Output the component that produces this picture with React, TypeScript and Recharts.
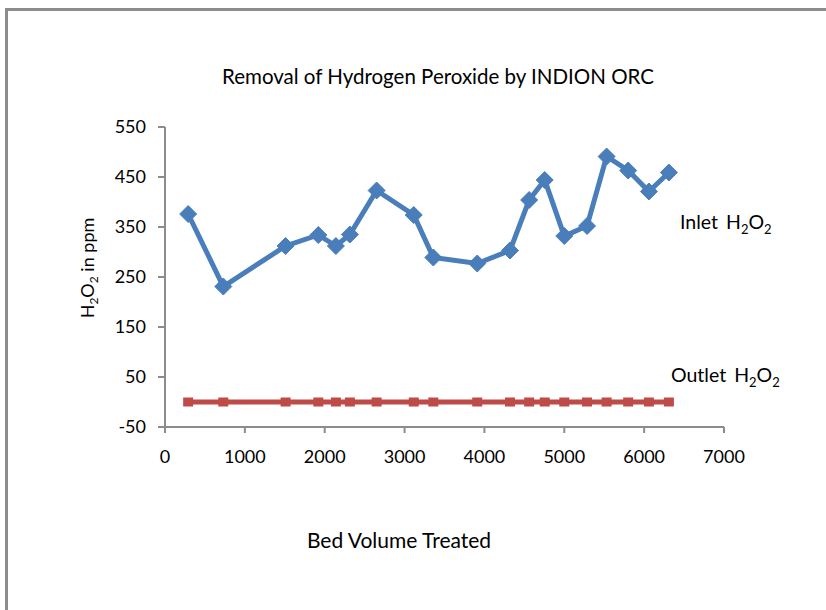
import React from "react";
import { LineChart, Line, XAxis, YAxis, Customized } from "recharts";

const bedVolumes = [290, 730, 1510, 1920, 2140, 2315, 2650, 3115, 3360, 3910, 4320, 4560, 4755, 5000, 5285, 5530, 5800, 6060, 6310];
const inletH2O2 = [376, 231, 312, 334, 312, 335, 423, 374, 289, 277, 303, 404, 444, 332, 352, 491, 463, 421, 459];
const outletH2O2 = [0, 0, 0, 0, 0, 0, 0, 0, 0, 0, 0, 0, 0, 0, 0, 0, 0, 0, 0];
const xTicks = [0, 1000, 2000, 3000, 4000, 5000, 6000, 7000];
const yTicks = [-50, 50, 150, 250, 350, 450, 550];

const data = bedVolumes.map((bv, i) => ({ bv, inlet: inletH2O2[i], outlet: outletH2O2[i] }));

const FONT = "Lato, 'Open Sans', sans-serif";
const BLUE = "#4A7EBB";
const RED = "#BE4B48";
const AXIS = "#8C8C8C";

const Diamond = (props: any) => {
  const { cx, cy, index } = props;
  if (cx == null || cy == null) return null;
  const r = 8.5;
  return <path key={`d${index}`} d={`M${cx},${cy - r}L${cx + r},${cy}L${cx},${cy + r}L${cx - r},${cy}Z`} fill={BLUE} stroke={BLUE} strokeWidth={1} />;
};

const Square = (props: any) => {
  const { cx, cy, index } = props;
  if (cx == null || cy == null) return null;
  return <rect key={`s${index}`} x={cx - 5} y={cy - 4.5} width={10} height={9} fill={RED} />;
};

const Texts = () => (
  <g fontFamily={FONT} fill="#000">
    <text x={438} y={84} textAnchor="middle" fontSize={20.5}>Removal of Hydrogen Peroxide by INDION ORC</text>
    <text x={399} y={548} textAnchor="middle" fontSize={21}>Bed Volume Treated</text>
    <text transform="translate(94,268) rotate(-90)" textAnchor="middle" fontSize={18}>
      H<tspan fontSize={12} dy={4}>2</tspan><tspan dy={-4}>O</tspan><tspan fontSize={12} dy={4}>2</tspan><tspan dy={-4}> in ppm</tspan>
    </text>
    <text x={680} y={229} fontSize={19.5} wordSpacing={3}>
      Inlet H<tspan fontSize={13} dy={5}>2</tspan><tspan dy={-5}>O</tspan><tspan fontSize={13} dy={5}>2</tspan>
    </text>
    <text x={671} y={382} fontSize={19.5} wordSpacing={3}>
      Outlet H<tspan fontSize={13} dy={5}>2</tspan><tspan dy={-5}>O</tspan><tspan fontSize={13} dy={5}>2</tspan>
    </text>
  </g>
);

export default function App() {
  return (
    <div style={{ position: "absolute", left: 0, top: 0, width: 826, height: 610, overflow: "hidden", background: "#fff" }}>
      <div style={{ position: "absolute", left: 5, top: 8, width: 900, height: 700, borderTop: `3px solid ${AXIS}`, borderLeft: `3px solid ${AXIS}`, boxSizing: "border-box" }} />
      <div style={{ position: "absolute", left: 0, top: 0 }}>
        <LineChart width={826} height={610} data={data} margin={{ top: 127, right: 102, bottom: 153, left: 105 }}>
          <XAxis
            dataKey="bv"
            type="number"
            domain={[0, 7000]}
            ticks={xTicks}
            interval={0}
            height={30}
            stroke={AXIS}
            strokeWidth={2}
            tickSize={6}
            tickMargin={17}
            tick={{ fill: "#000", fontSize: 18, fontFamily: FONT }}
            tickLine={{ stroke: AXIS, strokeWidth: 2 }}
          />
          <YAxis
            type="number"
            domain={[-50, 550]}
            ticks={yTicks}
            interval={0}
            width={60}
            stroke={AXIS}
            strokeWidth={2}
            tickSize={7}
            tickMargin={12}
            tick={{ fill: "#000", fontSize: 18, fontFamily: FONT }}
            tickLine={{ stroke: AXIS, strokeWidth: 2 }}
          />
          <Line dataKey="outlet" stroke={RED} strokeWidth={5} dot={Square} activeDot={false} isAnimationActive={false} />
          <Line dataKey="inlet" stroke={BLUE} strokeWidth={5} dot={Diamond} activeDot={false} isAnimationActive={false} />
          <Customized component={Texts} />
        </LineChart>
      </div>
    </div>
  );
}
